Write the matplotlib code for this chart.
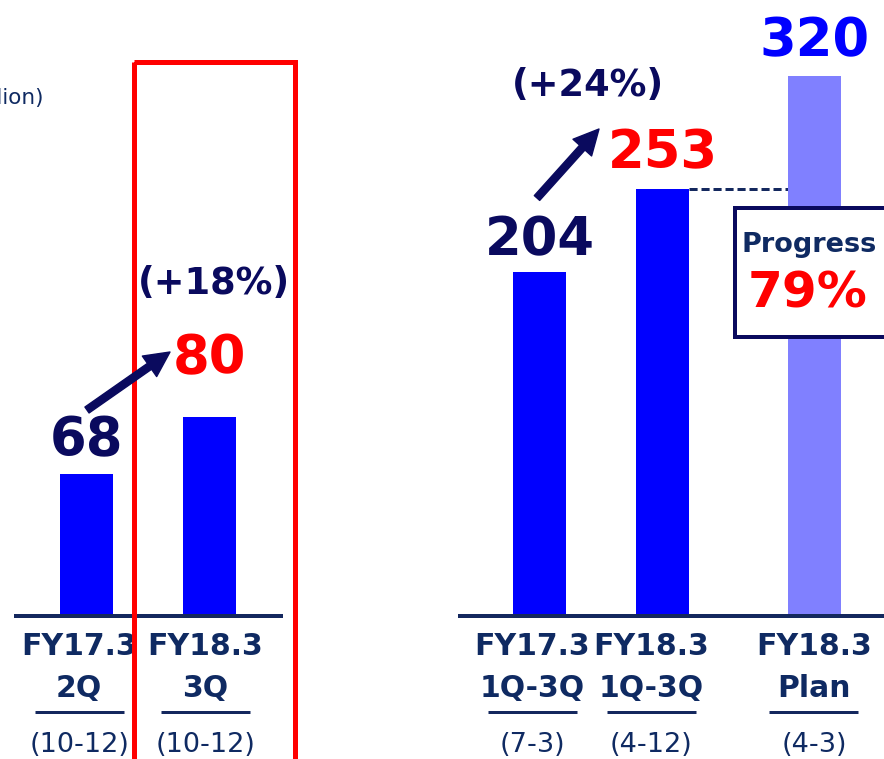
import matplotlib
matplotlib.use('Agg')
import matplotlib.pyplot as plt
from matplotlib import transforms
from matplotlib.patches import Rectangle, FancyArrowPatch

# ---------------- data ----------------
q_line1 = ['FY17.3', 'FY18.3']
q_line2 = ['2Q', '3Q']
q_periods = ['(10-12)', '(10-12)']
q_values = [68, 80]
q_growth = '(+18%)'

c_line1 = ['FY17.3', 'FY18.3', 'FY18.3']
c_line2 = ['1Q-3Q', '1Q-3Q', 'Plan']
c_periods = ['(7-3)', '(4-12)', '(4-3)']
c_values = [204, 253, 320]
c_growth = '(+24%)'

progress_label = 'Progress'
progress_pct = '79%'
unit_text = '(¥ billion)'

# ---------------- style / layout ----------------
W, H, DPI = 884, 759, 100
NAVY = '#0a0a5e'
LABEL = '#0f2a62'
LINE = '#14285e'
RED = '#ff0000'
BLUE = '#0000ff'
LIGHT = '#8080ff'
PT = 72.0 / DPI  # points per pixel

q_pos = [0, 1]
c_pos = [0, 1, 2.236]
bar_w = 0.431
q_colors = [BLUE, BLUE]
c_colors = [BLUE, BLUE, LIGHT]
q_val_colors = [NAVY, RED]
c_val_colors = [NAVY, RED, BLUE]
q_gaps = [19, 44]
c_gaps = [17, 21, 20]
q_shift = [-0.06, -0.035]
c_shift = [-0.06, -0.09, -0.005]

fig = plt.figure(figsize=(W / DPI, H / DPI), dpi=DPI)


def fig_rect(x0, y0, x1, y1):
    return [x0 / W, 1 - y1 / H, (x1 - x0) / W, (y1 - y0) / H]


BASE = 616
axL = fig.add_axes(fig_rect(16, 0, 281, BASE))
axR = fig.add_axes(fig_rect(460, 0, 884, BASE))

axL.set_xlim(-0.573, 1.581)
axL.set_ylim(38.1, 38.1 + 616 / 4.75)
axR.set_xlim(-0.646, 2.801)
axR.set_ylim(0, 616 / 1.686)

for ax in (axL, axR):
    for s in ('top', 'left', 'right'):
        ax.spines[s].set_visible(False)
    ax.spines['bottom'].set_linewidth(4 * PT)
    ax.spines['bottom'].set_color(LINE)
    ax.set_xticks([])
    ax.set_yticks([])
    ax.patch.set_alpha(0)


def draw_panel(ax, pos, values, colors, val_colors, gaps, l1, l2, periods, shifts):
    ax.bar(pos, values, width=bar_w, color=colors, zorder=2)
    for x, v, vc, g in zip(pos, values, val_colors, gaps):
        ax.text(x, v, str(v), transform=transforms.offset_copy(ax.transData, fig=fig, y=g, units='dots'),
                ha='center', va='baseline', fontsize=38, fontweight='bold', color=vc, clip_on=False)
    tr = transforms.blended_transform_factory(ax.transData, ax.transAxes)
    for x, a, b, p, s in zip(pos, l1, l2, periods, shifts):
        xc = x + s
        ax.text(xc, 0, a, transform=transforms.offset_copy(tr, fig=fig, y=-39, units='dots'),
                ha='center', va='baseline', fontsize=21.5, fontweight='bold', color=LABEL)
        ax.text(xc, 0, b, transform=transforms.offset_copy(tr, fig=fig, y=-81, units='dots'),
                ha='center', va='baseline', fontsize=21.5, fontweight='bold', color=LABEL)
        ax.plot([xc - 0.362, xc + 0.362], [0, 0],
                transform=transforms.offset_copy(tr, fig=fig, y=-96, units='dots'),
                color=LINE, lw=3 * PT, clip_on=False, solid_capstyle='butt')
        ax.text(xc, 0, p, transform=transforms.offset_copy(tr, fig=fig, y=-136, units='dots'),
                ha='center', va='baseline', fontsize=19.5, color=LABEL)


draw_panel(axL, q_pos, q_values, q_colors, q_val_colors, q_gaps, q_line1, q_line2, q_periods, q_shift)
draw_panel(axR, c_pos, c_values, c_colors, c_val_colors, c_gaps, c_line1, c_line2, c_periods, c_shift)

# dashed line from FY18.3 1Q-3Q bar top to plan bar
axR.plot([c_pos[1] + bar_w / 2, c_pos[2] - bar_w / 2], [c_values[1], c_values[1]],
         color=LINE, lw=3 * PT, linestyle=(0, (2.7, 1.3)), zorder=1)

# ---------------- overlay (pixel coordinates) ----------------
ov = fig.add_axes([0, 0, 1, 1], zorder=10)
ov.set_xlim(0, W)
ov.set_ylim(H, 0)
ov.axis('off')
ov.patch.set_alpha(0)

ov.add_patch(Rectangle((134, 62), 161, 760, fill=False, ec=RED, lw=5 * PT))

arrow_style = 'simple,head_length=0.9,head_width=0.9,tail_width=0.26'
for (p0, p1) in [((87, 410), (170, 352)), ((537, 198), (599, 129))]:
    ov.add_patch(FancyArrowPatch(p0, p1, arrowstyle=arrow_style, mutation_scale=20,
                                 color=NAVY, shrinkA=0, shrinkB=0))

ov.text(213.5, 294, q_growth, ha='center', va='baseline', fontsize=26.5, fontweight='bold', color=NAVY)
ov.text(587.5, 96, c_growth, ha='center', va='baseline', fontsize=26.5, fontweight='bold', color=NAVY)

ov.add_patch(Rectangle((735, 208), 200, 129, fc='white', ec=NAVY, lw=4 * PT))
ov.text(809.5, 252, progress_label, ha='center', va='baseline', fontsize=19.5, fontweight='bold', color=LABEL)
ov.text(807.5, 308, progress_pct, ha='center', va='baseline', fontsize=36, fontweight='bold', color=RED)

ov.text(44, 98, unit_text, ha='right', va='center', fontsize=15.5, color=LABEL)

fig.savefig('out.png', dpi=DPI)
